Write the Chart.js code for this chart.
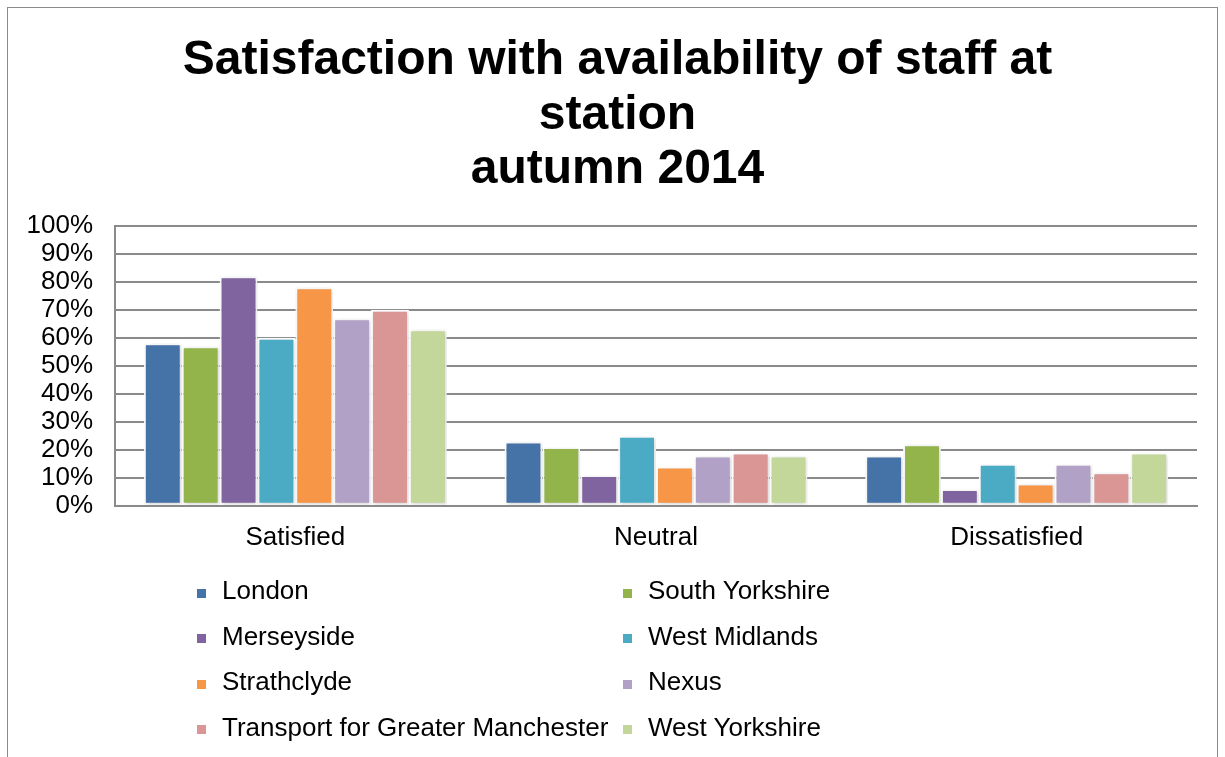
<!DOCTYPE html>
<html>
<head>
<meta charset="utf-8">
<title>Satisfaction with availability of staff at station</title>
<script src="https://cdn.jsdelivr.net/npm/chart.js@4.4.1/dist/chart.umd.min.js"></script>
<style>
    html, body {
        margin: 0;
        padding: 0;
        background: #ffffff;
        overflow: hidden;
    }
    #wrap {
        position: relative;
        width: 1225px;
        height: 757px;
        font-family: "Liberation Sans", Arial, sans-serif;
    }
    #frame {
        position: absolute;
        left: 7px;
        top: 7px;
        width: 1211px;
        height: 780px;
        border: 1px solid #8a8a8a;
        box-sizing: border-box;
    }
    #satisfactionChart {
        position: absolute;
        left: 0;
        top: 0;
    }
    #legend {
        position: absolute;
        left: 197px;
        top: 568px;
        display: grid;
        grid-template-columns: 426px 300px;
        grid-auto-rows: 45.5px;
        font-size: 26px;
        color: #000;
    }
    .legend-item {
        display: flex;
        align-items: center;
        white-space: nowrap;
    }
    .legend-box {
        width: 9px;
        height: 9px;
        margin-right: 16px;
        margin-top: 5px;
    }
</style>
</head>
<body>
<div id="wrap">
    <div id="frame"></div>
    <canvas id="satisfactionChart" width="1225" height="757"></canvas>
    <div id="legend"></div>
</div>
<script>
const categories = ['Satisfied', 'Neutral', 'Dissatisfied'];
const titleLines = ['Satisfaction with availability of staff at', 'station', 'autumn 2014'];

const london = [58, 23, 18];
const southYorkshire = [57, 21, 22];
const merseyside = [82, 11, 6];
const westMidlands = [60, 25, 15];
const strathclyde = [78, 14, 8];
const nexus = [67, 18, 15];
const tfgm = [70, 19, 12];
const westYorkshire = [63, 18, 19];

const seriesNames = ['London', 'South Yorkshire', 'Merseyside', 'West Midlands',
    'Strathclyde', 'Nexus', 'Transport for Greater Manchester', 'West Yorkshire'];
const seriesValues = [london, southYorkshire, merseyside, westMidlands,
    strathclyde, nexus, tfgm, westYorkshire];
const seriesColors = ['#4572a7', '#93b44b', '#80649f', '#4babc5',
    '#f79646', '#b2a1c7', '#d99694', '#c4d79b'];

const FONT = '"Liberation Sans", Arial, sans-serif';

const datasets = seriesNames.map((name, i) => ({
    label: name,
    data: seriesValues[i],
    backgroundColor: seriesColors[i],
    borderColor: '#ffffff',
    borderWidth: 2,
    borderSkipped: false,
    categoryPercentage: 0.84,
    barPercentage: 1.0
}));

// soft shadow behind the bars, like the original
const barShadow = {
    id: 'barShadow',
    beforeDatasetsDraw(chart) {
        chart.ctx.save();
        chart.ctx.shadowColor = 'rgba(0,0,0,0.18)';
        chart.ctx.shadowBlur = 4;
        chart.ctx.shadowOffsetX = 1;
        chart.ctx.shadowOffsetY = 1;
    },
    afterDatasetsDraw(chart) {
        chart.ctx.restore();
    }
};

// the original title sits a little right of the plot centre
const titleShift = {
    id: 'titleShift',
    afterLayout(chart) {
        if (chart.titleBlock) {
            chart.titleBlock.left += 14;
            chart.titleBlock.right += 14;
        }
    }
};

const ctx = document.getElementById('satisfactionChart').getContext('2d');
const chart = new Chart(ctx, {
    type: 'bar',
    data: {
        labels: categories,
        datasets: datasets
    },
    plugins: [barShadow, titleShift],
    options: {
        responsive: false,
        animation: false,
        devicePixelRatio: 1,
        layout: {
            padding: { left: 10, right: 28, top: 34, bottom: 188 }
        },
        plugins: {
            legend: { display: false },
            tooltip: { enabled: false },
            title: {
                display: true,
                text: titleLines,
                color: '#000',
                font: { family: FONT, size: 48, weight: 'bold', lineHeight: 1.13 },
                padding: { top: 0, bottom: 29 }
            }
        },
        scales: {
            x: {
                grid: { display: false, drawTicks: false },
                border: { display: true, color: '#8a8a8a', width: 2 },
                ticks: {
                    color: '#000',
                    padding: 16,
                    font: { family: FONT, size: 26 }
                }
            },
            y: {
                min: 0,
                max: 100,
                afterFit(scale) {
                    scale.width = 105;
                },
                grid: { color: '#8a8a8a', lineWidth: 2, drawTicks: false },
                border: { display: true, color: '#8a8a8a', width: 2 },
                ticks: {
                    stepSize: 10,
                    autoSkip: false,
                    color: '#000',
                    padding: 22,
                    font: { family: FONT, size: 26, lineHeight: 1.0 },
                    callback: (value) => value + '%'
                }
            }
        }
    }
});

// Build the two-column legend from the chart's datasets
const legendEl = document.getElementById('legend');
legendEl.innerHTML = chart.data.datasets.map(ds => `
    <div class="legend-item">
        <span class="legend-box" style="background:${ds.backgroundColor}"></span>
        <span>${ds.label}</span>
    </div>
`).join('');
</script>
</body>
</html>
